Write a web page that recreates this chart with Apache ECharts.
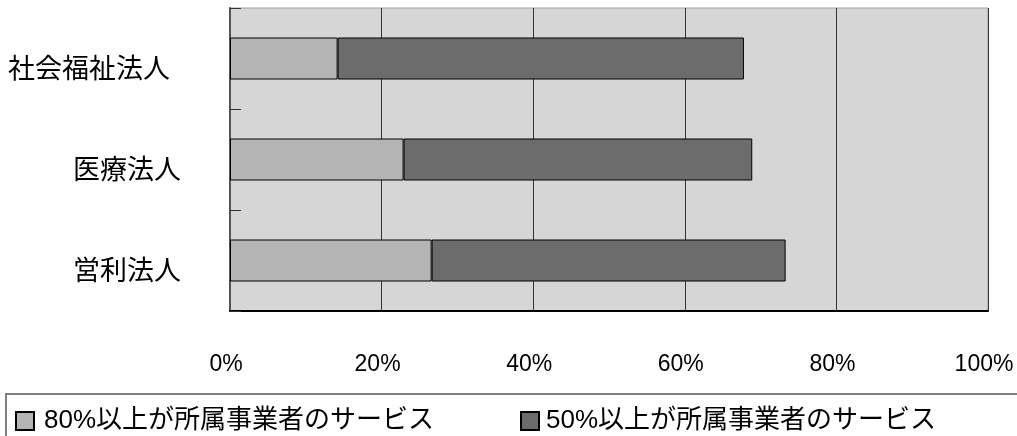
<!DOCTYPE html>
<html>
<head>
<meta charset="utf-8">
<script src="https://cdn.jsdelivr.net/npm/echarts@6/dist/echarts.min.js"></script>
<style>
  html, body { margin: 0; padding: 0; background: #fff; }
  #chart { width: 1017px; height: 436px; }
</style>
</head>
<body>
<div id="chart"></div>
<script>
  // 法人種別（上から順）
  var categories = ['社会福祉法人', '医療法人', '営利法人'];
  var seriesNames = ['80%以上が所属事業者のサービス', '50%以上が所属事業者のサービス'];
  // 割合（%）
  var over80 = [14.2, 22.9, 26.6];
  var over50 = [53.6, 46.0, 46.7];
  var xTicks = [0, 20, 40, 60, 80, 100];

  var latinFont = '"Liberation Sans", Arial, "Noto Sans CJK JP", sans-serif';
  var cjkFont = '"Noto Sans CJK JP", sans-serif';

  var chart = echarts.init(document.getElementById('chart'));

  chart.setOption({
    animation: false,
    textStyle: { fontFamily: cjkFont },
    grid: {
      left: 230,
      right: 29,
      top: 8,
      bottom: 125,
      show: true,
      backgroundColor: '#d6d6d6',
      borderColor: '#a0a0a0',
      borderWidth: 1
    },
    xAxis: {
      type: 'value',
      min: xTicks[0],
      max: xTicks[xTicks.length - 1],
      interval: 20,
      axisLine: { show: true, lineStyle: { color: '#000', width: 2 } },
      axisTick: { show: false },
      splitLine: { show: true, lineStyle: { color: '#333', width: 1 } },
      axisLabel: {
        formatter: '{value}%',
        margin: 42,
        color: '#000',
        fontSize: 23,
        fontFamily: latinFont,
        padding: [0, 8, 0, 0]
      }
    },
    yAxis: {
      type: 'category',
      inverse: true,
      data: categories,
      axisLine: { show: true, lineStyle: { color: '#555', width: 2 } },
      axisTick: { show: true, inside: true, length: 11, lineStyle: { color: '#333', width: 1 } },
      axisLabel: {
        margin: 49,
        color: '#000',
        fontSize: 27,
        fontFamily: cjkFont,
        padding: [18, 0, 0, 0],
        // 上の項目だけラベルが少し左寄り
        formatter: function (v, i) {
          return i === 0 ? '{top|' + v + '}' : v;
        },
        rich: {
          top: { fontSize: 27, fontFamily: cjkFont, color: '#000', padding: [0, 11, 0, 0] }
        }
      }
    },
    legend: [
      {
        left: 10,
        top: 403,
        data: [seriesNames[0]],
        icon: 'rect',
        itemWidth: 18,
        itemHeight: 18,
        textStyle: { fontSize: 26, color: '#000', fontFamily: latinFont, padding: [0, 0, 0, 5] }
      },
      {
        left: 515,
        top: 403,
        data: [seriesNames[1]],
        icon: 'rect',
        itemWidth: 18,
        itemHeight: 18,
        textStyle: { fontSize: 26, color: '#000', fontFamily: latinFont, padding: [0, 0, 0, 2] }
      }
    ],
    graphic: [
      {
        type: 'rect',
        shape: { x: 6, y: 394, width: 1030, height: 60 },
        style: { fill: 'none', stroke: '#808080', lineWidth: 2 },
        silent: true
      }
    ],
    series: [
      {
        name: seriesNames[0],
        type: 'bar',
        stack: 'total',
        barWidth: 42,
        data: over80,
        itemStyle: { color: '#b4b4b4', borderColor: '#000', borderWidth: 1 }
      },
      {
        name: seriesNames[1],
        type: 'bar',
        stack: 'total',
        barWidth: 42,
        data: over50,
        itemStyle: { color: '#6c6c6c', borderColor: '#000', borderWidth: 1 }
      }
    ]
  });
</script>
</body>
</html>
